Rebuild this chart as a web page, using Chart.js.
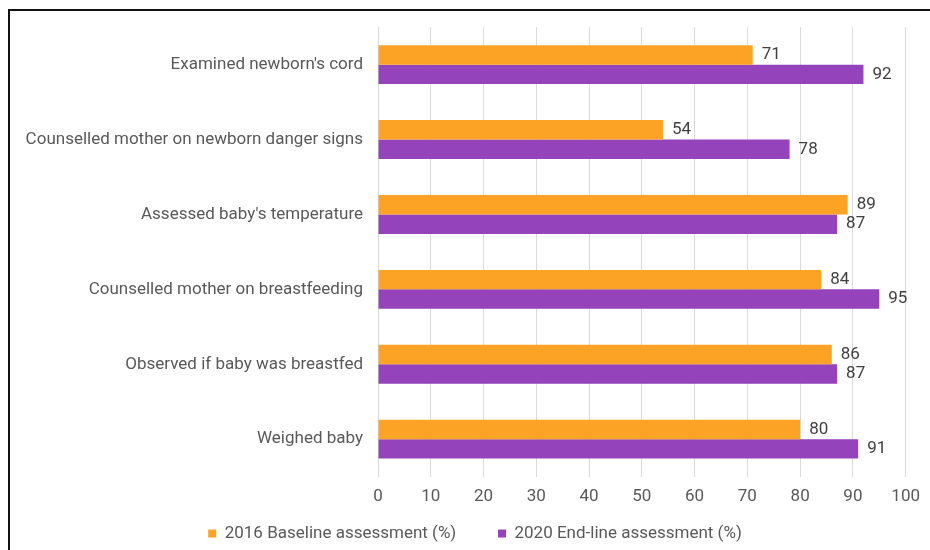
<!DOCTYPE html>
<html>
<head>
<meta charset="utf-8">
<script src="https://cdn.jsdelivr.net/npm/chart.js@4.4.1/dist/chart.umd.min.js"></script>
<style>
  html,body{margin:0;padding:0;background:#fff;overflow:hidden;}
  #frame{position:absolute;left:8px;top:9px;width:930px;height:545px;border-top:2px solid #111;border-left:2px solid #111;z-index:2;pointer-events:none;}
  #wrap{position:absolute;left:10px;top:2px;width:920px;height:550px;}
</style>
</head>
<body>
<div id="frame"></div>
<div id="wrap"><canvas id="c"></canvas></div>
<script>
const categories = [
  "Examined newborn's cord",
  "Counselled mother on newborn danger signs",
  "Assessed baby's temperature",
  "Counselled mother on breastfeeding",
  "Observed if baby was breastfed",
  "Weighed baby"
];
const baseline2016 = [71, 54, 89, 84, 86, 80];
const endline2020 = [92, 78, 87, 95, 87, 91];
const seriesNames = ["2016 Baseline assessment (%)", "2020 End-line assessment (%)"];
const xTicks = [0,10,20,30,40,50,60,70,80,90,100];

const valueLabels = {
  id: 'valueLabels',
  afterDatasetsDraw(chart) {
    const ctx = chart.ctx;
    ctx.save();
    ctx.font = '17px Roboto';
    ctx.fillStyle = '#404040';
    ctx.textBaseline = 'middle';
    ctx.textAlign = 'left';
    chart.data.datasets.forEach((ds, i) => {
      chart.getDatasetMeta(i).data.forEach((bar, j) => {
        ctx.fillText(String(ds.data[j]), bar.x + 9, bar.y);
      });
    });
    ctx.restore();
  }
};

const legendShift = {
  id: 'legendShift',
  afterLayout(chart) {
    if (chart.legend) { chart.legend.left += 12; chart.legend.right += 12; }
  }
};

new Chart(document.getElementById('c'), {
  type: 'bar',
  data: {
    labels: categories,
    datasets: [
      { label: seriesNames[0], data: baseline2016, backgroundColor: '#FCA326', categoryPercentage: 0.52, barPercentage: 1.0 },
      { label: seriesNames[1], data: endline2020, backgroundColor: '#9543BA', categoryPercentage: 0.52, barPercentage: 1.0 }
    ]
  },
  options: {
    indexAxis: 'y',
    responsive: true,
    maintainAspectRatio: false,
    animation: false,
    layout: { padding: { top: 6, right: 14, left: 0, bottom: 0 } },
    scales: {
      x: {
        min: 0, max: 100,
        afterBuildTicks(scale) { scale.ticks = xTicks.map(v => ({ value: v })); },
        grid: { color: '#d9d9d9', drawTicks: false },
        border: { display: false },
        ticks: { color: '#595959', font: { family: 'Roboto', size: 17 }, padding: 10 }
      },
      y: {
        afterFit(scale) { scale.width = 368; },
        grid: { display: false, drawTicks: false },
        border: { display: true, color: '#d9d9d9' },
        ticks: { color: '#595959', font: { family: 'Roboto', size: 17 }, padding: 15 }
      }
    },
    plugins: {
      legend: {
        position: 'bottom',
        labels: {
          color: '#595959',
          font: { family: 'Roboto', size: 17 },
          boxWidth: 8, boxHeight: 8,
          padding: 8,
          generateLabels(chart) {
            const items = Chart.defaults.plugins.legend.labels.generateLabels(chart);
            items[0].text = items[0].text + '        ';
            return items;
          }
        }
      },
      tooltip: { enabled: false }
    }
  },
  plugins: [valueLabels, legendShift]
});
</script>
</body>
</html>
